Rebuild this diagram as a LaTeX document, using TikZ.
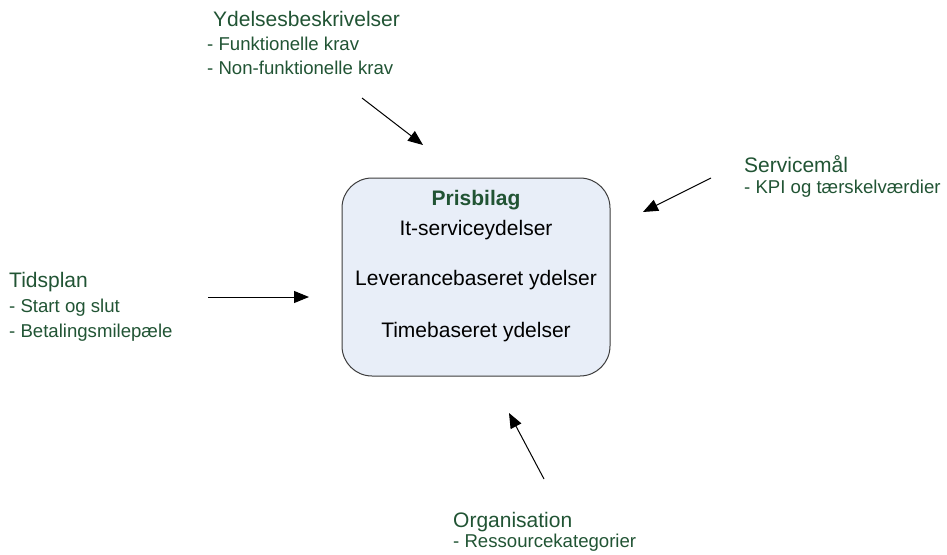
\documentclass[tikz,border=0pt]{standalone}
\usepackage{fontspec}
\setmainfont{Liberation Sans}
\usetikzlibrary{arrows.meta}
\definecolor{txtgreen}{RGB}{33,84,52}
\definecolor{boxfill}{RGB}{232,238,248}
\definecolor{boxline}{RGB}{60,60,60}
\begin{document}
\begin{tikzpicture}[x=1pt,y=-1pt,
  head/.style={anchor=base west,inner sep=0pt,text=txtgreen,font=\fontsize{21}{24}\selectfont},
  sub/.style={anchor=base west,inner sep=0pt,text=txtgreen,font=\fontsize{18.6}{22}\selectfont},
  boxtxt/.style={anchor=base,inner sep=0pt,text=black,font=\fontsize{21}{24}\selectfont},
  arr/.style={line width=1pt,-{Triangle[length=15pt,width=12pt]}}]
\useasboundingbox (0,0) rectangle (947,554);
% central box
\node[draw=boxline,fill=boxfill,line width=1pt,rounded corners=30pt,minimum width=268pt,minimum height=198pt,inner sep=0pt] (box) at (476,277) {};
\node[boxtxt,font=\bfseries\fontsize{21}{24}\selectfont,text=txtgreen] (pris) at (476,205) {Prisbilag};
\node[boxtxt] (it) at (476,235) {It-serviceydelser};
\node[boxtxt] (lev) at (476,285) {Leverancebaseret ydelser};
\node[boxtxt] (time) at (476,337) {Timebaseret ydelser};
% Ydelsesbeskrivelser
\node[head] (yd) at (213,27) {Ydelsesbeskrivelser};
\node[sub] (yd1) at (207,50) {- Funktionelle krav};
\node[sub] (yd2) at (207,74) {- Non-funktionelle krav};
% Servicemaal
\node[head] (sm) at (744,172) {Servicemål};
\node[sub] (sm1) at (744,193) {- KPI og tærskelværdier};
% Tidsplan
\node[head] (tp) at (9,287) {Tidsplan};
\node[sub] (tp1) at (9,312) {- Start og slut};
\node[sub] (tp2) at (9,337) {- Betalingsmilepæle};
% Organisation
\node[head] (org) at (453,527) {Organisation};
\node[sub] (org1) at (453,547) {- Ressourcekategorier};
% arrows
\coordinate (a1s) at (362,98);  \coordinate (a1e) at (423,145);
\coordinate (a2s) at (711,178); \coordinate (a2e) at (643,212);
\coordinate (a3s) at (208,297); \coordinate (a3e) at (309,297);
\coordinate (a4s) at (544,479); \coordinate (a4e) at (509,413);
\draw[arr] (a1s) -- (a1e);
\draw[arr] (a2s) -- (a2e);
\draw[arr] (a3s) -- (a3e);
\draw[arr] (a4s) -- (a4e);
\end{tikzpicture}
\end{document}
